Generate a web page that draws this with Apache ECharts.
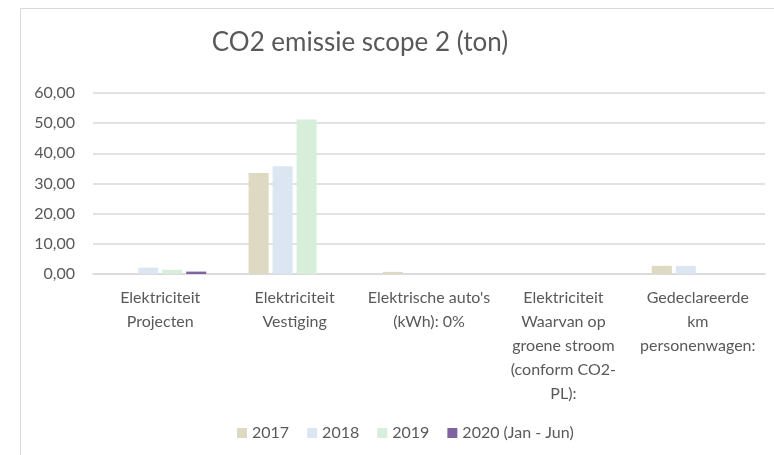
<!DOCTYPE html>
<html>
<head>
<meta charset="utf-8">
<script src="https://cdn.jsdelivr.net/npm/echarts@6/dist/echarts.min.js"></script>
<style>
  html, body { margin: 0; padding: 0; background: #fff; }
  #chart { width: 774px; height: 455px; }
</style>
</head>
<body>
<div id="chart"></div>
<script>
// categorieen (met regelafbreking zoals in Excel)
var categories = [
    'Elektriciteit\nProjecten',
    'Elektriciteit\nVestiging',
    "Elektrische auto's\n(kWh): 0%",
    'Elektriciteit\nWaarvan op\ngroene stroom\n(conform CO2-\nPL):',
    'Gedeclareerde\nkm\npersonenwagen:'
];
var years = ['2017', '2018', '2019', '2020 (Jan - Jun)'];
var data2017 = [0, 33.5, 0.7, 0, 2.7];
var data2018 = [2.1, 35.7, 0, 0, 2.7];
var data2019 = [1.4, 51.2, 0, 0, 0];
var data2020 = [0.8, 0, 0, 0, 0];
var yTicks = [0, 10, 20, 30, 40, 50, 60];

var colors = ['#ddd9c3', '#dce6f2', '#d7eedb', '#8064a2'];
var font = 'Lato, "Open Sans", sans-serif';

var chart = echarts.init(document.getElementById('chart'));

function bar(name, values, idx) {
    return {
        name: name,
        type: 'bar',
        data: values,
        barWidth: 20,
        barGap: '20%',
        itemStyle: { color: colors[idx] },
        emphasis: { disabled: true }
    };
}

var option = {
    animation: false,
    textStyle: { fontFamily: font },
    graphic: [{
        type: 'rect',
        silent: true,
        shape: { x: 20.5, y: 8.5, width: 900, height: 600 },
        style: { fill: 'none', stroke: '#d9d9d9', lineWidth: 1 }
    }],
    title: {
        text: 'CO2 emissie scope 2 (ton)',
        left: 355,
        textAlign: 'center',
        top: 25,
        textStyle: { fontFamily: font, fontSize: 26, fontWeight: 'normal', color: '#595959' }
    },
    legend: {
        bottom: 9,
        left: 232,
        itemWidth: 10,
        itemHeight: 10,
        itemGap: 18,
        icon: 'rect',
        textStyle: { fontFamily: font, fontSize: 16, color: '#595959' },
        data: years
    },
    grid: { left: 93, right: 9, top: 93, bottom: 181, containLabel: false },
    xAxis: {
        type: 'category',
        data: categories,
        axisLine: { lineStyle: { color: '#d9d9d9', width: 1.5 } },
        axisTick: { show: false },
        axisLabel: {
            interval: 0,
            margin: 12,
            fontSize: 16,
            lineHeight: 24,
            color: '#595959',
            fontFamily: font
        }
    },
    yAxis: {
        type: 'value',
        min: yTicks[0],
        max: yTicks[yTicks.length - 1],
        interval: 10,
        axisLine: { show: false },
        axisTick: { show: false },
        splitLine: { lineStyle: { color: '#d9d9d9', width: 1.5 } },
        axisLabel: {
            margin: 18,
            fontSize: 16,
            color: '#595959',
            fontFamily: font,
            formatter: function (v) { return v.toFixed(2).replace('.', ','); }
        }
    },
    series: [
        bar(years[0], data2017, 0),
        bar(years[1], data2018, 1),
        bar(years[2], data2019, 2),
        bar(years[3], data2020, 3)
    ]
};

chart.setOption(option);
</script>
</body>
</html>
